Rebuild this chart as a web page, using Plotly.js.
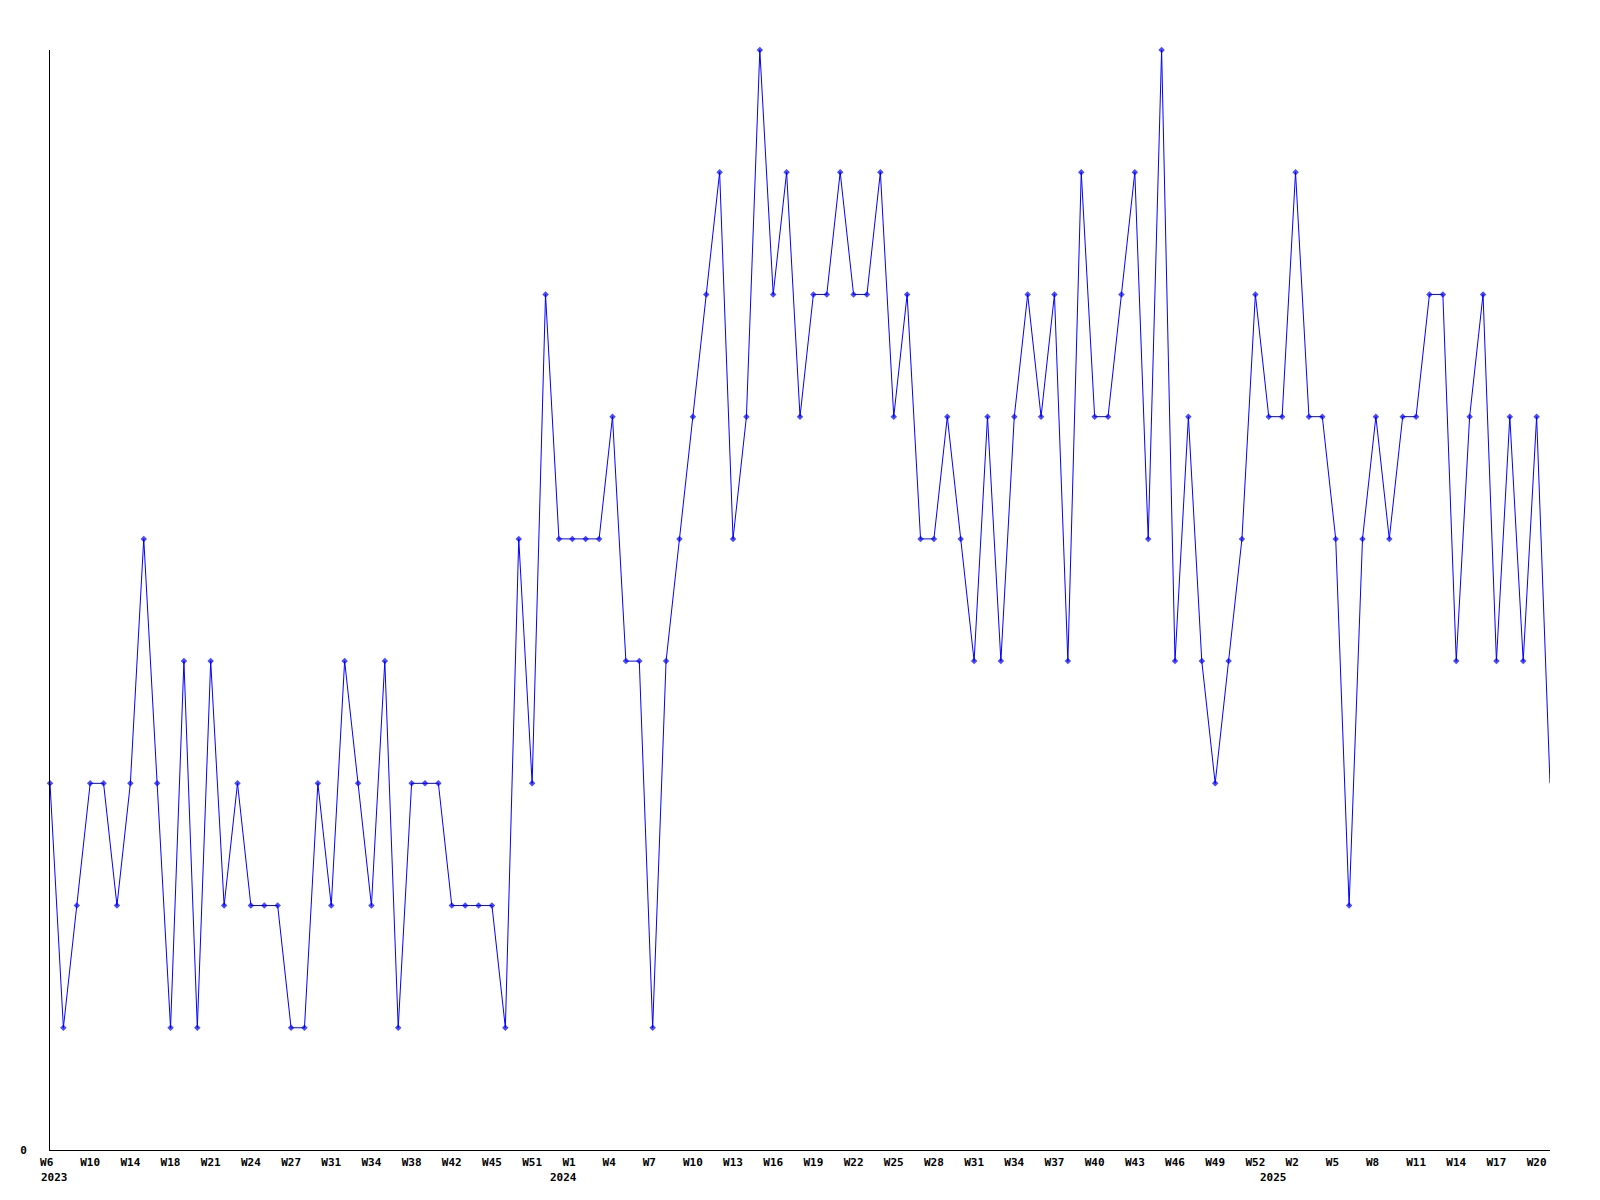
<!DOCTYPE html>
<html>
<head>
<meta charset="utf-8">
<script src="https://cdn.plot.ly/plotly-3.0.1.min.js"></script>
<style>html,body{margin:0;padding:0;background:#fff;}#chart{width:1600px;height:1200px;}</style>
</head>
<body>
<div id="chart"></div>
<script>
// Series values, one per data point (left to right)
const values = [
  3,1,2,3,3,2,3,5,3,1,4,1,4,2,3,2,2,2,1,1,3,2,4,3,2,4,1,3,3,3,2,2,2,2,1,5,3,
  7,5,5,5,5,6,4,4,1,4,5,6,7,8,5,6,9,7,8,6,7,7,8,7,7,8,6,7,5,5,6,5,4,6,4,6,7,6,7,4,8,6,6,7,8,5,9,4,6,4,3,4,5,7,
  6,6,8,6,6,5,2,5,6,5,6,6,7,7,4,6,7,4,6,4,6,3
];
// Week tick labels, placed on every third point
const weekLabels = [
  "W6","W10","W14","W18","W21","W24","W27","W31","W34","W38","W42","W45","W51",
  "W1","W4","W7","W10","W13","W16","W19","W22","W25","W28","W31","W34","W37","W40","W43","W46","W49","W52",
  "W2","W5","W8","W11","W14","W17","W20"
];
const labelStep = 3;
// Year labels and the point where each year starts
const years = ["2023","2024","2025"];
const yearStart = [0, 38, 91];
// Y tick labels
const yTickVals = [0];
const yTickText = ["0"];

const xs = values.map((_, i) => i);
const tickVals = weekLabels.map((_, k) => k * labelStep);
const tickText = weekLabels.map(t => t.length < 3 ? t + "\u00a0".repeat(3 - t.length) : t);
const sizes = values.map((_, i) => i === values.length - 1 ? 0 : 5);

const font = {family: "DejaVu Sans Mono", size: 11, color: "#000"};

const trace = {
  type: "scatter",
  mode: "lines+markers",
  x: xs,
  y: values,
  line: {color: "#0000ff", width: 1},
  marker: {color: "#0000ff", size: sizes, symbol: "diamond", line: {width: 0}},
  hoverinfo: "skip",
  cliponaxis: false
};

const annotations = years.map((y, k) => ({
  x: yearStart[k], xref: "x", y: 0, yref: "y",
  text: "<b>" + y + "</b>", showarrow: false,
  xanchor: "left", yanchor: "top", xshift: -11, yshift: -19,
  font: font
}));

const layout = {
  width: 1600, height: 1200,
  margin: {l: 50, r: 50, t: 50, b: 50, pad: 0},
  paper_bgcolor: "#fff", plot_bgcolor: "#fff",
  showlegend: false,
  font: font,
  xaxis: {
    range: [0, values.length - 1], autorange: false,
    showgrid: false, zeroline: false,
    showline: true, linecolor: "#000", linewidth: 1,
    tickmode: "array", tickvals: tickVals, ticktext: tickText.map(t => "<b>" + t + "</b>"),
    ticks: "", ticklabelstandoff: 2,
    tickangle: 0, tickfont: font
  },
  yaxis: {
    range: [0, 9], autorange: false,
    showgrid: false, zeroline: false,
    showline: true, linecolor: "#000", linewidth: 1,
    tickmode: "array", tickvals: yTickVals, ticktext: yTickText.map(t => "<b>" + t + "</b>"),
    ticks: "", ticklabelstandoff: 20, tickfont: font
  },
  annotations: annotations
};

Plotly.newPlot("chart", [trace], layout, {staticPlot: true, displayModeBar: false});
</script>
</body>
</html>
